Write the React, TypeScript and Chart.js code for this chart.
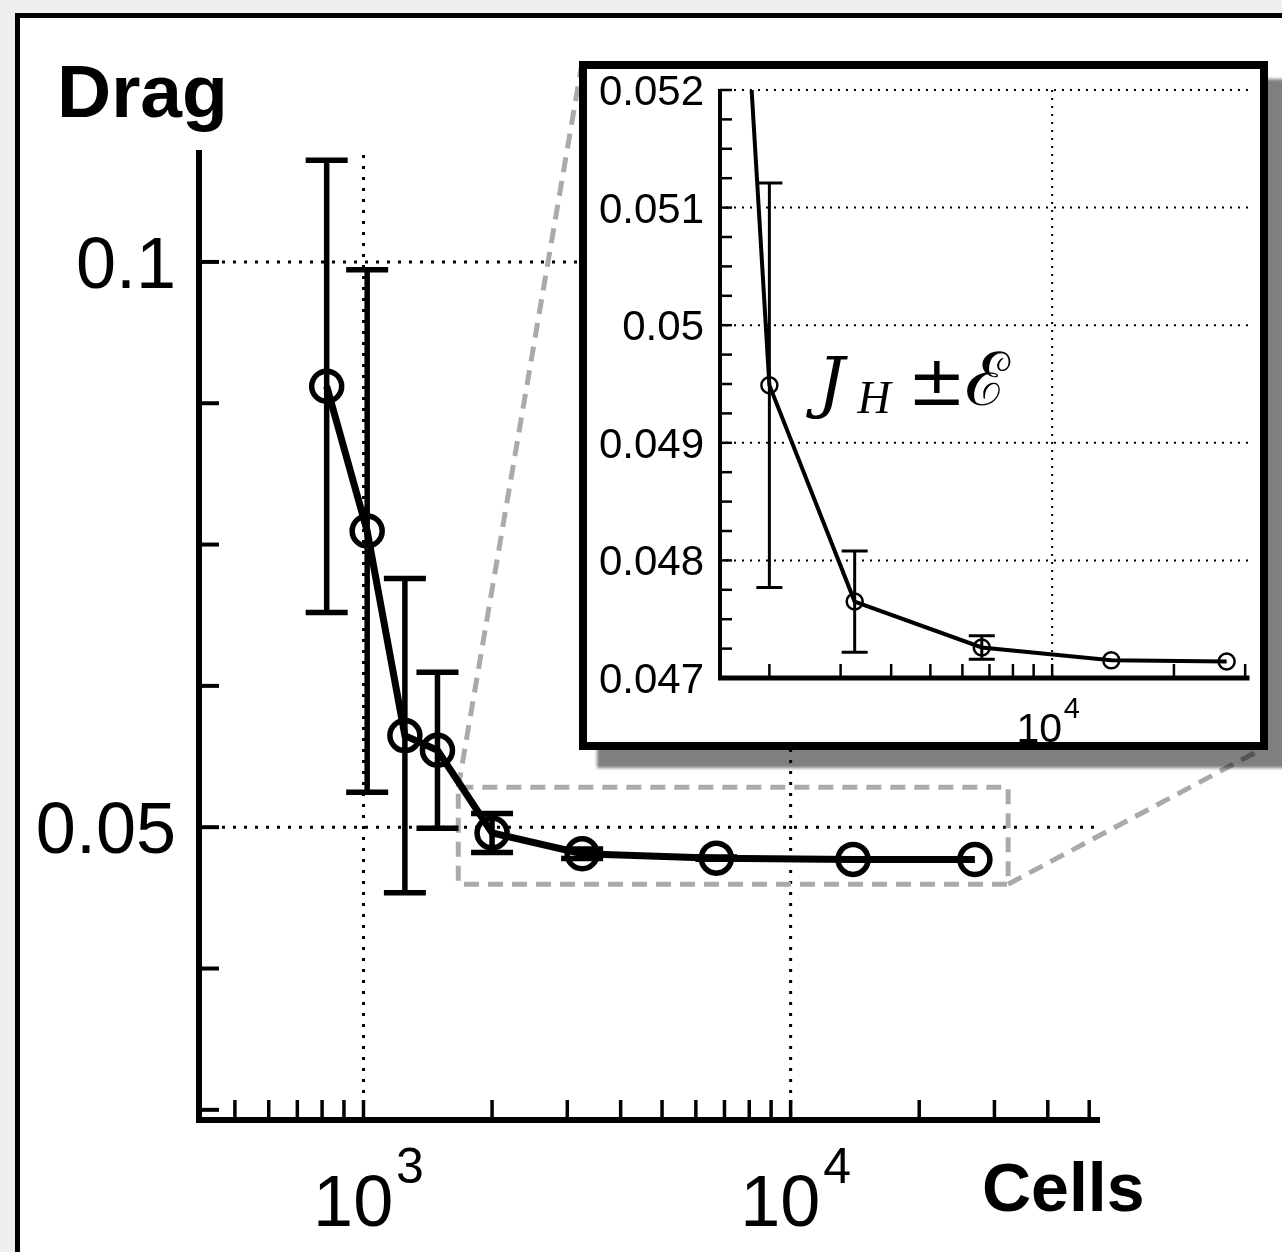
import React, { useEffect, useRef } from 'react';
import { Chart, registerables } from 'chart.js';

Chart.register(...registerables);

// ---------------- data ----------------
const cells = [820, 1020, 1250, 1490, 2000, 3250, 6700, 14000, 27000];
const drag = [0.089, 0.0762, 0.0581, 0.0568, 0.04949, 0.04765, 0.04726, 0.04715, 0.04714];
const dragError = [0.02, 0.0231, 0.0139, 0.0069, 0.00172, 0.00043, 0.0001, 0, 0];

// main axes
const mainXTicks = [500, 600, 700, 800, 900, 1000, 2000, 3000, 4000, 5000, 6000, 7000, 8000, 9000, 10000, 20000, 30000, 40000, 50000];
const mainXLabelExps = ['3', '4'];
const mainYTicks = [0.025, 0.0375, 0.05, 0.0625, 0.075, 0.0875, 0.1];
const mainYLabels = ['0.05', '0.1'];
const mainXRange = [412, 53000];
const mainYRange = [0.0241, 0.1099];

// inset axes
const insetXTicks = [2000, 3000, 4000, 5000, 6000, 7000, 8000, 9000, 10000, 20000, 30000];
const insetXLabelExps = ['4'];
const insetYTicks = [
  0.04725, 0.0475, 0.04775, 0.048, 0.04825, 0.0485, 0.04875, 0.049, 0.04925, 0.0495, 0.04975,
  0.05, 0.05025, 0.0505, 0.05075, 0.051, 0.05125, 0.0515, 0.05175, 0.052,
];
const insetYLabels = ['0.047', '0.048', '0.049', '0.05', '0.051', '0.052'];
const insetXRange = [1510, 30750];
const insetYRange = [0.047, 0.052];

// zoom rectangle (data units of the main chart)
const zoomBoxX = [1667, 32300];
const zoomBoxY = [0.04496, 0.05354];

const insetLabel = { script: 'J', sub: 'H', pm: '±', err: 'ℰ' };

// ---------------- layout ----------------
const W = 1282;
const H = 1252;
const INSET = { left: 579, top: 61, size: 689, border: 8 };
const INNER = INSET.size - 2 * INSET.border;
const FONT = '"Liberation Sans", Arial, Helvetica, sans-serif';

function seg(ctx: CanvasRenderingContext2D, x1: number, y1: number, x2: number, y2: number) {
  ctx.beginPath();
  ctx.moveTo(x1, y1);
  ctx.lineTo(x2, y2);
  ctx.stroke();
}

function drawPow(ctx: CanvasRenderingContext2D, px: number, baseY: number, exp: string, big: number, sup: number, rise: number, shift: number) {
  ctx.font = `${big}px ${FONT}`;
  const w = ctx.measureText('10').width;
  ctx.font = `${sup}px ${FONT}`;
  const ws = ctx.measureText(exp).width;
  const gap = big * 0.04;
  const x0 = px - (w + gap + ws) / 2 + shift;
  ctx.textAlign = 'left';
  ctx.textBaseline = 'alphabetic';
  ctx.font = `${big}px ${FONT}`;
  ctx.fillText('10', x0, baseY);
  ctx.font = `${sup}px ${FONT}`;
  ctx.fillText(exp, x0 + w + gap, baseY - rise);
}

function drawErrorBars(chart: any, lw: number, cap: number) {
  const { ctx, chartArea: a, scales } = chart;
  const xs = scales.x;
  const ys = scales.y;
  ctx.save();
  ctx.beginPath();
  ctx.rect(a.left, a.top - 2, a.right - a.left, a.bottom - a.top + 2);
  ctx.clip();
  ctx.strokeStyle = '#000';
  ctx.lineWidth = lw;
  ctx.setLineDash([]);
  ctx.lineCap = 'butt';
  cells.forEach((c, i) => {
    const e = dragError[i];
    if (!e) return;
    const px = xs.getPixelForValue(c);
    if (px < a.left + 1 || px > a.right) return;
    const t = ys.getPixelForValue(drag[i] + e);
    const b = ys.getPixelForValue(drag[i] - e);
    seg(ctx, px, t, px, b);
    seg(ctx, px - cap, t, px + cap, t);
    seg(ctx, px - cap, b, px + cap, b);
  });
  ctx.restore();
}

const mainPlugin = {
  id: 'mainDecor',
  beforeDatasetsDraw(chart: any) {
    const { ctx, chartArea: a, scales } = chart;
    const xs = scales.x;
    const ys = scales.y;
    ctx.save();
    // dotted grid
    ctx.strokeStyle = '#000';
    ctx.lineWidth = 3;
    ctx.setLineDash([3, 8]);
    mainYLabels.forEach((v) => {
      const py = ys.getPixelForValue(parseFloat(v));
      seg(ctx, a.left + 12, py, a.right, py);
    });
    mainXLabelExps.forEach((e) => {
      const px = xs.getPixelForValue(Math.pow(10, parseFloat(e)));
      seg(ctx, px, a.top + 5, px, a.bottom);
    });
    // zoom box + connectors
    const bx1 = xs.getPixelForValue(zoomBoxX[0]);
    const bx2 = xs.getPixelForValue(zoomBoxX[1]);
    const by1 = ys.getPixelForValue(zoomBoxY[1]);
    const by2 = ys.getPixelForValue(zoomBoxY[0]);
    ctx.strokeStyle = '#a9abab';
    ctx.lineWidth = 5;
    ctx.setLineDash([15, 9]);
    ctx.strokeRect(bx1, by1, bx2 - bx1, by2 - by1);
    seg(ctx, bx1, by1, INSET.left + 3, INSET.top + 2);
    seg(ctx, bx2, by2, INSET.left + INSET.size - 6, INSET.top + INSET.size - 1);
    ctx.restore();
  },
  afterDatasetsDraw(chart: any) {
    const { ctx, chartArea: a, scales } = chart;
    const xs = scales.x;
    const ys = scales.y;
    drawErrorBars(chart, 5.5, 21);
    ctx.save();
    ctx.setLineDash([]);
    ctx.strokeStyle = '#000';
    ctx.fillStyle = '#000';
    // ticks
    ctx.lineWidth = 3.5;
    mainXTicks.forEach((v) => {
      const px = xs.getPixelForValue(v);
      seg(ctx, px, a.bottom, px, a.bottom - 20);
    });
    ctx.lineWidth = 4;
    mainYTicks.forEach((v) => {
      const py = ys.getPixelForValue(v);
      seg(ctx, a.left, py, a.left + 20, py);
    });
    // axis lines
    ctx.lineWidth = 6;
    seg(ctx, a.left, a.top, a.left, a.bottom + 3);
    seg(ctx, a.left - 3, a.bottom, a.right, a.bottom);
    // y labels
    ctx.font = `72px ${FONT}`;
    ctx.textAlign = 'right';
    ctx.textBaseline = 'alphabetic';
    mainYLabels.forEach((v) => {
      const py = ys.getPixelForValue(parseFloat(v));
      ctx.fillText(v, a.left - 23, py + 26);
    });
    // x labels
    mainXLabelExps.forEach((e) => {
      const px = xs.getPixelForValue(Math.pow(10, parseFloat(e)));
      drawPow(ctx, px, a.bottom + 106, e, 72, 50, 43, 5);
    });
    // axis titles
    ctx.font = `bold 75px ${FONT}`;
    ctx.textAlign = 'left';
    ctx.fillText('Drag', 57, 117);
    ctx.font = `bold 68px ${FONT}`;
    ctx.fillText('Cells', 982, 1211);
    ctx.restore();
  },
};

const insetPlugin = {
  id: 'insetDecor',
  beforeDatasetsDraw(chart: any) {
    const { ctx, chartArea: a, scales } = chart;
    const xs = scales.x;
    const ys = scales.y;
    ctx.save();
    ctx.strokeStyle = '#000';
    ctx.lineWidth = 2;
    ctx.setLineDash([2, 6]);
    insetYLabels.slice(1).forEach((v) => {
      const py = ys.getPixelForValue(parseFloat(v));
      seg(ctx, a.left + 6, py, a.right, py);
    });
    insetXLabelExps.forEach((e) => {
      const px = xs.getPixelForValue(Math.pow(10, parseFloat(e)));
      seg(ctx, px, a.top, px, a.bottom);
    });
    ctx.restore();
  },
  afterDatasetsDraw(chart: any) {
    const { ctx, chartArea: a, scales } = chart;
    const xs = scales.x;
    const ys = scales.y;
    drawErrorBars(chart, 3, 13);
    ctx.save();
    ctx.setLineDash([]);
    ctx.strokeStyle = '#000';
    ctx.fillStyle = '#000';
    ctx.lineWidth = 2.5;
    insetXTicks.forEach((v) => {
      const px = xs.getPixelForValue(v);
      seg(ctx, px, a.bottom, px, a.bottom - 14);
    });
    insetYTicks.forEach((v) => {
      const py = ys.getPixelForValue(v);
      seg(ctx, a.left, py, a.left + 12, py);
    });
    ctx.lineWidth = 4;
    seg(ctx, a.left, a.top - 1, a.left, a.bottom + 2);
    ctx.lineWidth = 5;
    seg(ctx, a.left - 2, a.bottom, a.right, a.bottom);
    ctx.font = `42px ${FONT}`;
    ctx.textAlign = 'right';
    ctx.textBaseline = 'alphabetic';
    insetYLabels.forEach((v) => {
      const py = ys.getPixelForValue(parseFloat(v));
      ctx.fillText(v, a.left - 16, py + 15);
    });
    insetXLabelExps.forEach((e) => {
      const px = xs.getPixelForValue(Math.pow(10, parseFloat(e)));
      drawPow(ctx, px, a.bottom + 64, e, 41, 29, 24, -4);
    });
    // J_H ± E annotation, anchored next to the 2000-cell point
    const ax = xs.getPixelForValue(cells[4]) + 34;
    const ay = ys.getPixelForValue(drag[4]) + 20;
    ctx.textAlign = 'left';
    ctx.font = `italic 68px "DejaVu Serif", "Liberation Serif", serif`;
    ctx.fillText(insetLabel.script, ax + 14, ay);
    ctx.font = `italic 46px "Liberation Serif", serif`;
    ctx.fillText(insetLabel.sub, ax + 54, ay + 8);
    ctx.font = `70px "DejaVu Serif", "Liberation Serif", serif`;
    ctx.fillText(insetLabel.pm, ax + 104, ay);
    ctx.font = `74px "DejaVu Serif", "Liberation Serif", serif`;
    ctx.fillText(insetLabel.err, ax + 162, ay);
    ctx.restore();
  },
};

function makeConfig(
  xr: number[],
  yr: number[],
  lw: number,
  r: number,
  pbw: number,
  plugin: any,
  padding: any,
  clip: any
): any {
  return {
    type: 'line',
    data: {
      datasets: [
        {
          data: cells.map((c, i) => ({ x: c, y: drag[i] })),
          borderColor: '#000',
          borderWidth: lw,
          pointRadius: r,
          pointBorderWidth: pbw,
          pointBorderColor: '#000',
          pointBackgroundColor: 'rgba(0,0,0,0)',
          tension: 0,
          fill: false,
          clip,
        },
      ],
    },
    options: {
      responsive: false,
      animation: false,
      devicePixelRatio: 1,
      layout: { padding },
      plugins: { legend: { display: false }, tooltip: { enabled: false } },
      events: [],
      scales: {
        x: { type: 'logarithmic', min: xr[0], max: xr[1], display: false },
        y: { type: 'linear', min: yr[0], max: yr[1], display: false },
      },
    },
    plugins: [plugin],
  };
}

export default function App() {
  const mainRef = useRef<HTMLCanvasElement>(null);
  const insetRef = useRef<HTMLCanvasElement>(null);

  useEffect(() => {
    const main = new Chart(
      mainRef.current as HTMLCanvasElement,
      makeConfig(mainXRange, mainYRange, 7, 15, 5.5, mainPlugin, { left: 199, right: W - 1100, top: 150, bottom: H - 1120 }, 20)
    );
    const insetLeft = 720 - (INSET.left + INSET.border);
    const insetTop = 90 - (INSET.top + INSET.border);
    const insetRight = INSET.left + INSET.border + INNER - 1255;
    const insetBottom = INSET.top + INSET.border + INNER - 678;
    const inset = new Chart(
      insetRef.current as HTMLCanvasElement,
      makeConfig(insetXRange, insetYRange, 4, 8, 2.5, insetPlugin, { left: insetLeft, right: insetRight, top: insetTop, bottom: insetBottom }, { left: 0, top: 0, right: 12, bottom: 12 })
    );
    return () => {
      main.destroy();
      inset.destroy();
    };
  }, []);

  return (
    <div style={{ position: 'fixed', left: 0, top: 0, width: W, height: H, overflow: 'hidden', background: '#efefef' }}>
      <div
        style={{
          position: 'absolute',
          left: 15,
          top: 13,
          width: 1320,
          height: 1320,
          border: '5px solid #000',
          background: '#fff',
          boxSizing: 'border-box',
        }}
      />
      <canvas ref={mainRef} width={W} height={H} style={{ position: 'absolute', left: 0, top: 0, width: W, height: H }} />
      <div
        style={{
          position: 'absolute',
          left: INSET.left,
          top: INSET.top,
          width: INSET.size,
          height: INSET.size,
          border: `${INSET.border}px solid #000`,
          boxSizing: 'border-box',
          background: '#fff',
          boxShadow: '18px 18px 3px rgba(0,0,0,0.5)',
        }}
      >
        <canvas ref={insetRef} width={INNER} height={INNER} style={{ display: 'block', width: INNER, height: INNER }} />
      </div>
    </div>
  );
}
